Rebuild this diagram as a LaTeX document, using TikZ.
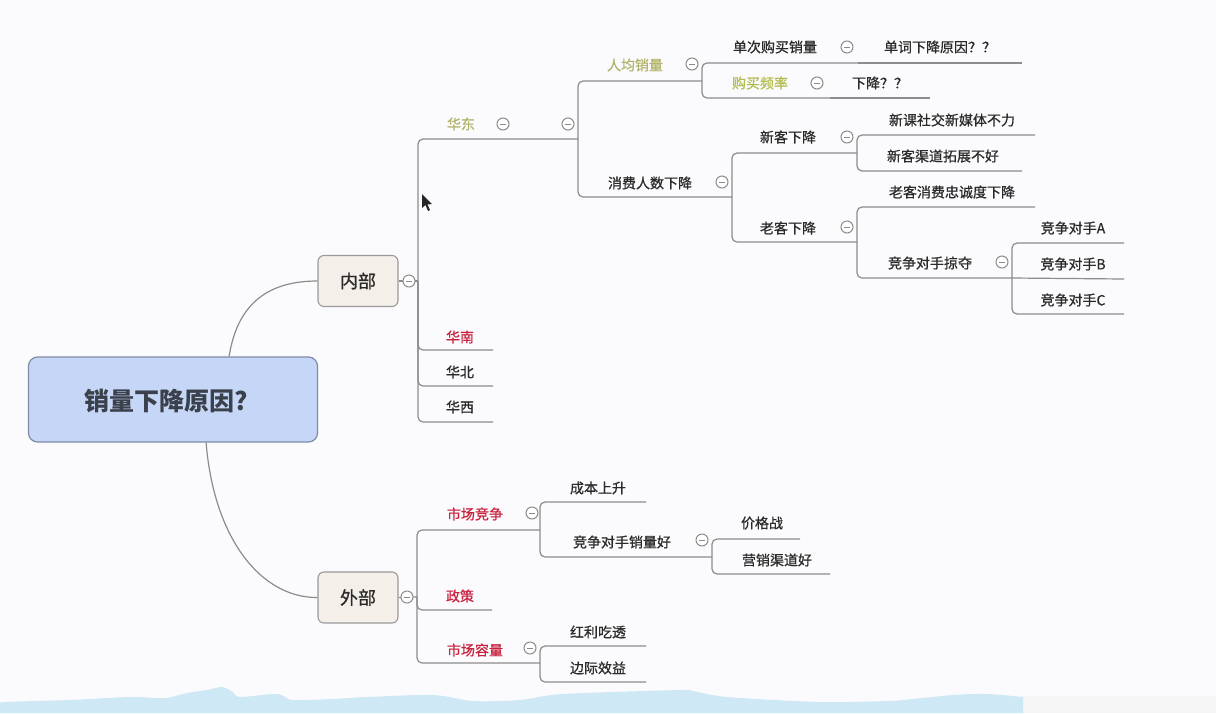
\documentclass[tikz,border=0pt]{standalone}
\usepackage{fontspec}
\setmainfont{Noto Sans CJK SC}
\newfontfamily\tfont[FakeBold=0.7]{Noto Sans CJK SC}
\usetikzlibrary{calc}
\definecolor{bgc}{HTML}{FBFBFD}
\definecolor{linec}{HTML}{8C8C8C}
\definecolor{txtc}{HTML}{2A2A2A}
\definecolor{olivec}{HTML}{B2B46A}
\definecolor{yelgc}{HTML}{B3BC52}
\definecolor{redc}{HTML}{C8223E}
\definecolor{rootfill}{HTML}{C6D6F6}
\definecolor{rootdraw}{HTML}{7E8CA6}
\definecolor{roottxt}{HTML}{3A404C}
\definecolor{boxfill}{HTML}{F4EFE9}
\definecolor{boxdraw}{HTML}{9A9A9A}
\definecolor{wavec}{HTML}{CFE8F5}
\tikzset{
  topic/.style={inner sep=0pt, text=txtc, font=\tfont\fontsize{14}{16}\selectfont},
  br/.style={draw=linec, line width=1.2pt, rounded corners=5pt},
  curvel/.style={draw=linec, line width=1.2pt},
  rootbox/.style={draw=rootdraw, fill=rootfill, line width=1.2pt, rounded corners=9pt,
     minimum width=289pt, minimum height=85pt},
  roottext/.style={inner sep=0pt, text=roottxt, font=\fontsize{25}{28}\selectfont\bfseries},
  subbox/.style={draw=boxdraw, fill=boxfill, line width=1.1pt, rounded corners=6pt,
     minimum width=80pt, minimum height=51pt, text=txtc, font=\tfont\fontsize{18}{20}\selectfont},
  minus/.style={circle, draw=linec, line width=1pt, fill=white, minimum size=12pt, inner sep=0pt,
     path picture={\draw[linec, line width=0.9pt] ([xshift=-3pt]path picture bounding box.center) -- ([xshift=3pt]path picture bounding box.center);}},
}
\newcommand\Tp[7][]{\node[topic,#1] (#2) at (#3,#4) {#5}; \coordinate (#2-e) at (#6,#7);}
\begin{document}
\begin{tikzpicture}[x=1pt,y=-1pt]
\useasboundingbox (0,0) rectangle (1216,713);
\fill[bgc] (0,0) rectangle (1216,713);
\fill[color=black!4] (1023,696) rectangle (1216,713);
% bottom wave
\fill[wavec] plot[smooth] coordinates {(0,704) (5,702) (70,700) (130,697) (165,698) (187,693) (207,690) (222,687) (233,692) (240,697) (277,694) (293,700) (333,699) (367,697) (433,695) (473,701) (520,700) (563,694) (680,690) (693,691) (727,697) (820,702) (887,701) (903,700) (953,695) (987,694) (1023,697)} -- (1023,713) -- (0,713) -- cycle;

% main nodes
\node[rootbox] (root) at (173,399.5) {};
\node[roottext] (roottitle) at (166.5,401) {销量下降原因?};
\node[subbox] (nei) at (358,281) {内部};
\node[subbox] (wai) at (358,597.5) {外部};
\coordinate (nei-e) at (418,281);
\coordinate (wai-e) at (417,597);

\draw[curvel] ([xshift=-89pt]root.north east) .. controls (238,300) and (272,281) .. (nei.west);
\draw[curvel] ([xshift=-112pt]root.south east) .. controls (214,540) and (262,598) .. (wai.west);
\draw[br] (nei.east) -- (nei-e);
\draw[br] (wai.east) -- (wai-e);

% internal topics
\Tp[text=olivec]{hd}{461}{124}{华东}{578}{139}
\Tp[text=olivec]{rj}{635}{65}{人均销量}{702}{81}
\Tp{xf}{650}{183}{消费人数下降}{732}{197}
\Tp{dc}{775}{47}{单次购买销量}{858}{63}
\Tp{dcy}{940}{47}{单词下降原因？？}{1022}{63}
\Tp[text=yelgc]{gm}{760}{83}{购买频率}{830}{98}
\Tp{xj}{880}{83}{下降？？}{930}{98}
\Tp{xk}{788}{137}{新客下降}{857}{153}
\Tp{xka}{952}{120}{新课社交新媒体不力}{1035}{135}
\Tp{xkb}{943}{156}{新客渠道拓展不好}{1022}{171}
\Tp{lk}{788}{228}{老客下降}{857}{242}
\Tp{lka}{952}{192}{老客消费忠诚度下降}{1035}{207}
\Tp{lkb}{930}{263}{竞争对手掠夺}{1012}{278}
\Tp{ca}{1073}{228}{竞争对手A}{1124}{243}
\Tp{cb}{1073}{264}{竞争对手B}{1124}{279}
\Tp{cc}{1073}{300}{竞争对手C}{1124}{314}
\Tp[text=redc]{hn}{460}{337}{华南}{493}{350}
\Tp{hb}{460}{372}{华北}{493}{386}
\Tp{hx}{460}{407}{华西}{493}{422}
% external topics
\Tp[text=redc]{sc}{475}{514}{市场竞争}{540}{530}
\Tp[text=redc]{zc}{460}{596}{政策}{492}{610}
\Tp[text=redc]{sr}{475}{650}{市场容量}{540}{663}
\Tp{cs}{598}{488}{成本上升}{646}{502}
\Tp{jz}{622}{542}{竞争对手销量好}{712}{557}
\Tp{jg}{762}{523}{价格战}{800}{539}
\Tp{yx}{777}{560}{营销渠道好}{830}{574}
\Tp{hl}{598}{632}{红利吃透}{646}{646}
\Tp{bj}{598}{668}{边际效益}{646}{682}

% connectors
\foreach \p/\c in {nei/hd, nei/hn, nei/hb, nei/hx, hd/rj, hd/xf, rj/dc, rj/gm,
  xf/xk, xf/lk, xk/xka, xk/xkb, lk/lka, lk/lkb, lkb/ca, lkb/cc,
  wai/sc, wai/zc, wai/sr, sc/cs, sc/jz, jz/jg, jz/yx, sr/hl, sr/bj}
  \draw[br] (\p-e) |- (\c-e);
\foreach \p/\c in {dc/dcy, gm/xj, lkb/cb}
  \draw[br] (\p-e) -- (\c-e);

% collapse markers
\node[minus] (m1) at (409,281) {};
\node[minus] (m2) at (407,597) {};
\node[minus] (m3) at (503,124) {};
\node[minus] (m4) at (568,124) {};
\node[minus] (m5) at (692,64) {};
\node[minus] (m6) at (722,182) {};
\node[minus] (m7) at (847,47) {};
\node[minus] (m8) at (817,83) {};
\node[minus] (m9) at (847,137) {};
\node[minus] (m10) at (847,227) {};
\node[minus] (m11) at (1002,262) {};
\node[minus] (m12) at (532,513) {};
\node[minus] (m13) at (702,540) {};
\node[minus] (m14) at (530,648) {};

% mouse pointer
\fill[black!85] (422,194) -- (422,208) -- (425.5,205) -- (428,211) -- (430,210) -- (427.5,204.5) -- (432,204) -- cycle;
\end{tikzpicture}
\end{document}
